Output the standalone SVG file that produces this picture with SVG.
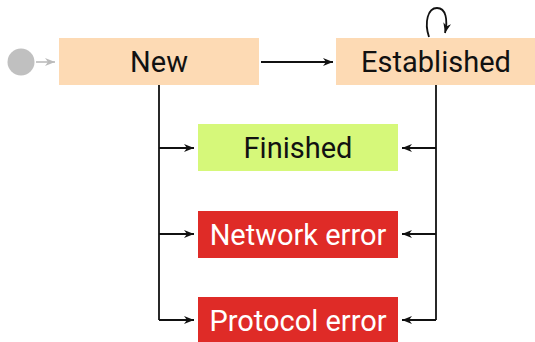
<svg xmlns="http://www.w3.org/2000/svg" width="535" height="342" viewBox="0 0 535 342">
<style>
.lbl{font-family:Roboto,"Liberation Sans",sans-serif;font-size:29px;text-anchor:middle}
.dark{fill:#111}
.light{fill:#fff}
.edge{fill:none;stroke:#111;stroke-width:1.8}
</style>
<defs>
<marker id="ah" viewBox="0 0 10 8" refX="10" refY="4" markerWidth="10" markerHeight="8" markerUnits="userSpaceOnUse" orient="auto">
<path d="M0,0 L10,4 L0,8 L3,4 Z" fill="#111"/>
</marker>
<marker id="ahg" viewBox="0 0 10 8" refX="10" refY="4" markerWidth="10" markerHeight="8" markerUnits="userSpaceOnUse" orient="auto">
<path d="M0,0 L10,4 L0,8 L3,4 Z" fill="#bbb"/>
</marker>
</defs>
<rect width="535" height="342" fill="#fff"/>
<g id="start"><circle cx="21" cy="62" r="13.5" fill="#c0c0c0"/></g>
<g id="new"><rect x="59" y="38" width="200" height="47" fill="#fddab4"/><text class="lbl dark" x="159" y="72">New</text></g>
<g id="established"><rect x="336" y="38" width="200" height="47" fill="#fddab4"/><text class="lbl dark" x="436" y="72">Established</text></g>
<g id="finished"><rect x="198" y="124" width="200" height="47" fill="#d6f87a"/><text class="lbl dark" x="298" y="158">Finished</text></g>
<g id="network"><rect x="198" y="211" width="200" height="47" fill="#df2b27"/><text class="lbl light" x="298" y="245">Network error</text></g>
<g id="protocol"><rect x="198" y="297" width="200" height="46" fill="#df2b27"/><text class="lbl light" x="298" y="331">Protocol error</text></g>
<g id="edges">
<path d="M36,62 H55" fill="none" stroke="#bbb" stroke-width="1.6" marker-end="url(#ahg)"/>
<path class="edge" d="M261,62 H333" marker-end="url(#ah)"/>
<path class="edge" d="M429,37 C424,22 428,8 437,8 C446,8 448,20 445,33" marker-end="url(#ah)"/>
<path class="edge" d="M159,85 V320"/>
<path class="edge" d="M159,148 H194" marker-end="url(#ah)"/>
<path class="edge" d="M159,234 H194" marker-end="url(#ah)"/>
<path class="edge" d="M159,320 H194" marker-end="url(#ah)"/>
<path class="edge" d="M436,85 V320"/>
<path class="edge" d="M436,148 H402" marker-end="url(#ah)"/>
<path class="edge" d="M436,234 H402" marker-end="url(#ah)"/>
<path class="edge" d="M436,320 H402" marker-end="url(#ah)"/>
</g>
</svg>
